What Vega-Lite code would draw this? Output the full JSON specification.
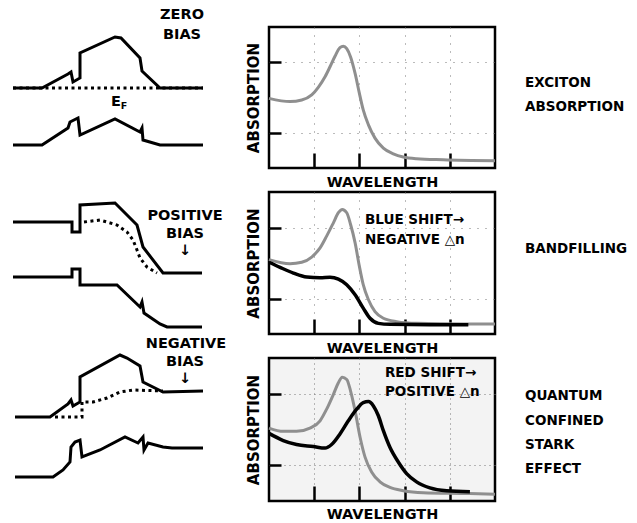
{
  "$schema": "https://vega.github.io/schema/vega-lite/v6.json",
  "padding": 0,
  "background": "white",
  "columns": 3,
  "spacing": {"row": 24, "column": 0},
  "bounds": "flush",
  "align": "each",
  "resolve": {"scale": {"x": "independent", "y": "independent"}},
  "config": {
    "view": {"stroke": null},
    "font": "DejaVu Sans",
    "text": {"font": "DejaVu Sans", "fontWeight": "bold", "color": "black"},
    "axis": {"titleFont": "DejaVu Sans", "titleFontWeight": "bold", "titleColor": "black"}
  },
  "datasets": {
    "solid": [
      {"band": "A", "i": 1, "x": 13, "y": 88}, {"band": "A", "i": 2, "x": 42, "y": 88}, {"band": "A", "i": 3, "x": 68, "y": 74}, {"band": "A", "i": 4, "x": 71, "y": 72}, {"band": "A", "i": 5, "x": 73, "y": 82}, {"band": "A", "i": 6, "x": 80, "y": 78}, {"band": "A", "i": 7, "x": 80, "y": 53}, {"band": "A", "i": 8, "x": 115, "y": 37}, {"band": "A", "i": 9, "x": 121, "y": 38}, {"band": "A", "i": 10, "x": 140, "y": 58}, {"band": "A", "i": 11, "x": 142, "y": 71}, {"band": "A", "i": 12, "x": 160, "y": 88}, {"band": "A", "i": 13, "x": 203, "y": 88},
      {"band": "B", "i": 1, "x": 13, "y": 145}, {"band": "B", "i": 2, "x": 42, "y": 145}, {"band": "B", "i": 3, "x": 68, "y": 128}, {"band": "B", "i": 4, "x": 70, "y": 122}, {"band": "B", "i": 5, "x": 78, "y": 118}, {"band": "B", "i": 6, "x": 80, "y": 135}, {"band": "B", "i": 7, "x": 115, "y": 119}, {"band": "B", "i": 8, "x": 140, "y": 132}, {"band": "B", "i": 9, "x": 142, "y": 128}, {"band": "B", "i": 10, "x": 143, "y": 140}, {"band": "B", "i": 11, "x": 160, "y": 145}, {"band": "B", "i": 12, "x": 203, "y": 145},
      {"band": "C", "i": 1, "x": 13, "y": 222}, {"band": "C", "i": 2, "x": 72, "y": 222}, {"band": "C", "i": 3, "x": 72, "y": 232}, {"band": "C", "i": 4, "x": 80, "y": 232}, {"band": "C", "i": 5, "x": 80, "y": 205}, {"band": "C", "i": 6, "x": 115, "y": 203}, {"band": "C", "i": 7, "x": 137, "y": 225}, {"band": "C", "i": 8, "x": 143, "y": 247}, {"band": "C", "i": 9, "x": 163, "y": 273}, {"band": "C", "i": 10, "x": 202, "y": 273},
      {"band": "D", "i": 1, "x": 13, "y": 277}, {"band": "D", "i": 2, "x": 72, "y": 277}, {"band": "D", "i": 3, "x": 72, "y": 269}, {"band": "D", "i": 4, "x": 80, "y": 269}, {"band": "D", "i": 5, "x": 80, "y": 285}, {"band": "D", "i": 6, "x": 117, "y": 285}, {"band": "D", "i": 7, "x": 140, "y": 307}, {"band": "D", "i": 8, "x": 142, "y": 302}, {"band": "D", "i": 9, "x": 144, "y": 313}, {"band": "D", "i": 10, "x": 160, "y": 324}, {"band": "D", "i": 11, "x": 167, "y": 327}, {"band": "D", "i": 12, "x": 202, "y": 327},
      {"band": "E", "i": 1, "x": 15, "y": 417}, {"band": "E", "i": 2, "x": 50, "y": 417}, {"band": "E", "i": 3, "x": 68, "y": 404}, {"band": "E", "i": 4, "x": 71, "y": 400}, {"band": "E", "i": 5, "x": 73, "y": 406}, {"band": "E", "i": 6, "x": 80, "y": 402}, {"band": "E", "i": 7, "x": 80, "y": 377}, {"band": "E", "i": 8, "x": 120, "y": 355}, {"band": "E", "i": 9, "x": 127, "y": 358}, {"band": "E", "i": 10, "x": 140, "y": 366}, {"band": "E", "i": 11, "x": 143, "y": 382}, {"band": "E", "i": 12, "x": 163, "y": 392}, {"band": "E", "i": 13, "x": 203, "y": 391},
      {"band": "F", "i": 1, "x": 15, "y": 477}, {"band": "F", "i": 2, "x": 53, "y": 477}, {"band": "F", "i": 3, "x": 63, "y": 470}, {"band": "F", "i": 4, "x": 70, "y": 462}, {"band": "F", "i": 5, "x": 71, "y": 447}, {"band": "F", "i": 6, "x": 75, "y": 442}, {"band": "F", "i": 7, "x": 80, "y": 440}, {"band": "F", "i": 8, "x": 82, "y": 457}, {"band": "F", "i": 9, "x": 100, "y": 450}, {"band": "F", "i": 10, "x": 125, "y": 437}, {"band": "F", "i": 11, "x": 138, "y": 443}, {"band": "F", "i": 12, "x": 143, "y": 437}, {"band": "F", "i": 13, "x": 144, "y": 450}, {"band": "F", "i": 14, "x": 148, "y": 443}, {"band": "F", "i": 15, "x": 163, "y": 447}, {"band": "F", "i": 16, "x": 172, "y": 448}, {"band": "F", "i": 17, "x": 203, "y": 448}
    ],
    "dotted": [
      {"band": "G", "i": 1, "x": 13, "y": 88}, {"band": "G", "i": 2, "x": 203, "y": 88},
      {"band": "H", "i": 1, "x": 84, "y": 222}, {"band": "H", "i": 2, "x": 100, "y": 220}, {"band": "H", "i": 3, "x": 117, "y": 225}, {"band": "H", "i": 4, "x": 127, "y": 232}, {"band": "H", "i": 5, "x": 133, "y": 240}, {"band": "H", "i": 6, "x": 137, "y": 250}, {"band": "H", "i": 7, "x": 140, "y": 258}, {"band": "H", "i": 8, "x": 147, "y": 267}, {"band": "H", "i": 9, "x": 157, "y": 273},
      {"band": "I", "i": 1, "x": 55, "y": 417}, {"band": "I", "i": 2, "x": 82, "y": 417}, {"band": "I", "i": 3, "x": 82, "y": 402}, {"band": "I", "i": 4, "x": 93, "y": 402}, {"band": "I", "i": 5, "x": 107, "y": 398}, {"band": "I", "i": 6, "x": 120, "y": 392}, {"band": "I", "i": 7, "x": 133, "y": 390}, {"band": "I", "i": 8, "x": 163, "y": 391}
    ],
    "leftText": [
      {"x": 182, "y": 15, "t": "ZERO"}, {"x": 182, "y": 35, "t": "BIAS"},
      {"x": 185, "y": 216, "t": "POSITIVE"}, {"x": 185, "y": 234, "t": "BIAS"}, {"x": 185, "y": 251, "t": "↓"},
      {"x": 186, "y": 344, "t": "NEGATIVE"}, {"x": 185, "y": 362, "t": "BIAS"}, {"x": 185, "y": 379, "t": "↓"},
      {"x": 116, "y": 102, "t": "E"}
    ],
    "subText": [{"x": 124, "y": 106, "t": "F"}],
    "rightText": [
      {"x": 30, "y": 83, "t": "EXCITON"}, {"x": 30, "y": 107, "t": "ABSORPTION"},
      {"x": 30, "y": 249, "t": "BANDFILLING"},
      {"x": 30, "y": 396, "t": "QUANTUM"}, {"x": 30, "y": 421, "t": "CONFINED"}, {"x": 30, "y": 445, "t": "STARK"}, {"x": 30, "y": 469, "t": "EFFECT"}
    ],
    "p1grey": [
      {"w": 0, "a": 0.494}, {"w": 0.093, "a": 0.471}, {"w": 0.145, "a": 0.482}, {"w": 0.189, "a": 0.518}, {"w": 0.218, "a": 0.572}, {"w": 0.248, "a": 0.647}, {"w": 0.27, "a": 0.718}, {"w": 0.292, "a": 0.793}, {"w": 0.314, "a": 0.854}, {"w": 0.329, "a": 0.864}, {"w": 0.344, "a": 0.847}, {"w": 0.361, "a": 0.788}, {"w": 0.381, "a": 0.671}, {"w": 0.4, "a": 0.529}, {"w": 0.417, "a": 0.412}, {"w": 0.44, "a": 0.306}, {"w": 0.469, "a": 0.212}, {"w": 0.506, "a": 0.141}, {"w": 0.55, "a": 0.101}, {"w": 0.594, "a": 0.078}, {"w": 0.653, "a": 0.066}, {"w": 0.771, "a": 0.059}, {"w": 1, "a": 0.052}
    ],
    "p2grey": [
      {"w": 0, "a": 0.524}, {"w": 0.093, "a": 0.495}, {"w": 0.145, "a": 0.505}, {"w": 0.189, "a": 0.542}, {"w": 0.226, "a": 0.606}, {"w": 0.255, "a": 0.689}, {"w": 0.285, "a": 0.783}, {"w": 0.307, "a": 0.854}, {"w": 0.324, "a": 0.877}, {"w": 0.344, "a": 0.854}, {"w": 0.361, "a": 0.771}, {"w": 0.381, "a": 0.642}, {"w": 0.4, "a": 0.476}, {"w": 0.417, "a": 0.347}, {"w": 0.44, "a": 0.241}, {"w": 0.469, "a": 0.158}, {"w": 0.506, "a": 0.111}, {"w": 0.565, "a": 0.087}, {"w": 0.653, "a": 0.075}, {"w": 0.86, "a": 0.071}, {"w": 1, "a": 0.071}
    ],
    "p2black": [
      {"w": 0, "a": 0.505}, {"w": 0.049, "a": 0.469}, {"w": 0.108, "a": 0.429}, {"w": 0.167, "a": 0.401}, {"w": 0.226, "a": 0.396}, {"w": 0.27, "a": 0.4}, {"w": 0.307, "a": 0.387}, {"w": 0.344, "a": 0.347}, {"w": 0.381, "a": 0.276}, {"w": 0.417, "a": 0.182}, {"w": 0.447, "a": 0.111}, {"w": 0.484, "a": 0.075}, {"w": 0.535, "a": 0.068}, {"w": 0.712, "a": 0.066}, {"w": 0.882, "a": 0.066}
    ],
    "p3grey": [
      {"w": 0, "a": 0.51}, {"w": 0.063, "a": 0.487}, {"w": 0.122, "a": 0.487}, {"w": 0.181, "a": 0.51}, {"w": 0.226, "a": 0.561}, {"w": 0.255, "a": 0.642}, {"w": 0.285, "a": 0.746}, {"w": 0.307, "a": 0.827}, {"w": 0.324, "a": 0.866}, {"w": 0.344, "a": 0.85}, {"w": 0.361, "a": 0.769}, {"w": 0.381, "a": 0.63}, {"w": 0.403, "a": 0.446}, {"w": 0.425, "a": 0.307}, {"w": 0.454, "a": 0.203}, {"w": 0.491, "a": 0.134}, {"w": 0.535, "a": 0.095}, {"w": 0.594, "a": 0.072}, {"w": 0.683, "a": 0.058}, {"w": 0.86, "a": 0.053}, {"w": 1, "a": 0.048}
    ],
    "p3black": [
      {"w": 0, "a": 0.473}, {"w": 0.063, "a": 0.423}, {"w": 0.122, "a": 0.395}, {"w": 0.196, "a": 0.381}, {"w": 0.248, "a": 0.37}, {"w": 0.277, "a": 0.395}, {"w": 0.314, "a": 0.469}, {"w": 0.351, "a": 0.561}, {"w": 0.388, "a": 0.642}, {"w": 0.417, "a": 0.688}, {"w": 0.44, "a": 0.695}, {"w": 0.462, "a": 0.665}, {"w": 0.484, "a": 0.596}, {"w": 0.506, "a": 0.492}, {"w": 0.535, "a": 0.376}, {"w": 0.572, "a": 0.273}, {"w": 0.609, "a": 0.192}, {"w": 0.653, "a": 0.134}, {"w": 0.712, "a": 0.092}, {"w": 0.786, "a": 0.072}, {"w": 0.889, "a": 0.065}
    ],
    "p2text": [{"w": 0.425, "a": 0.8, "t": "BLUE SHIFT→"}, {"w": 0.425, "a": 0.66, "t": "NEGATIVE △n"}],
    "p3text": [{"w": 0.513, "a": 0.895, "t": "RED SHIFT→"}, {"w": 0.513, "a": 0.762, "t": "POSITIVE △n"}]
  },
  "concat": [
    {"width": 269, "height": 3, "data": {"values": []}, "mark": {"type": "text", "text": ""}, "encoding": {}},
    {"width": 226, "height": 3, "data": {"values": []}, "mark": {"type": "text", "text": ""}, "encoding": {}},
    {"width": 142, "height": 3, "data": {"values": []}, "mark": {"type": "text", "text": ""}, "encoding": {}},

    {
      "width": 269, "height": 141,
      "encoding": {
        "x": {"field": "x", "type": "quantitative", "scale": {"domain": [0, 269], "nice": false, "zero": false}, "axis": null},
        "y": {"field": "y", "type": "quantitative", "scale": {"domain": [168, 27], "nice": false, "zero": false}, "axis": null}
      },
      "layer": [
        {"data": {"name": "dotted"}, "transform": [{"filter": {"field": "y", "range": [0, 180]}}], "mark": {"type": "line", "stroke": "black", "strokeWidth": 3, "strokeDash": [3, 3.5]}, "encoding": {"detail": {"field": "band"}, "order": {"field": "i"}}},
        {"data": {"name": "solid"}, "transform": [{"filter": {"field": "y", "range": [0, 180]}}], "mark": {"type": "line", "stroke": "black", "strokeWidth": 3, "strokeJoin": "miter"}, "encoding": {"detail": {"field": "band"}, "order": {"field": "i"}}},
        {"data": {"name": "leftText"}, "transform": [{"filter": {"field": "y", "range": [0, 180]}}], "mark": {"type": "text", "fontSize": 14.5, "align": "center", "baseline": "middle"}, "encoding": {"text": {"field": "t"}}},
        {"data": {"name": "subText"}, "mark": {"type": "text", "fontSize": 9.5, "align": "center", "baseline": "middle"}, "encoding": {"text": {"field": "t"}}}
      ]
    },
    {
      "width": 226, "height": 141,
      "view": {"stroke": "black", "strokeWidth": 2.5, "fill": "white"},
      "encoding": {
        "x": {"field": "w", "type": "quantitative", "scale": {"domain": [0, 1], "nice": false}, "axis": {"values": [0.2, 0.4, 0.6, 0.8], "labels": false, "tickSize": -15, "tickWidth": 2.5, "tickColor": "black", "domain": false, "title": "WAVELENGTH", "titleFontSize": 14.5, "titlePadding": 6, "grid": true, "gridDash": [1, 7], "gridColor": "#777", "gridWidth": 1}},
        "y": {"field": "a", "type": "quantitative", "scale": {"domain": [0, 1], "nice": false}, "axis": {"values": [0.25, 0.75], "labels": false, "tickSize": -12, "tickWidth": 2.5, "tickColor": "black", "domain": false, "title": "ABSORPTION", "titleFontSize": 15, "titlePadding": 6, "grid": true, "gridDash": [1, 7], "gridColor": "#777", "gridWidth": 1}}
      },
      "layer": [
        {"data": {"name": "p1grey"}, "mark": {"type": "line", "stroke": "#8f8f8f", "strokeWidth": 3, "interpolate": "monotone"}}
      ]
    },
    {
      "width": 142, "height": 141,
      "data": {"name": "rightText"},
      "transform": [{"filter": {"field": "y", "range": [0, 180]}}],
      "mark": {"type": "text", "fontSize": 13.5, "align": "left", "baseline": "middle"},
      "encoding": {
        "x": {"field": "x", "type": "quantitative", "scale": {"domain": [0, 142], "nice": false, "zero": false}, "axis": null},
        "y": {"field": "y", "type": "quantitative", "scale": {"domain": [168, 27], "nice": false, "zero": false}, "axis": null},
        "text": {"field": "t"}
      }
    },

    {
      "width": 269, "height": 142,
      "encoding": {
        "x": {"field": "x", "type": "quantitative", "scale": {"domain": [0, 269], "nice": false, "zero": false}, "axis": null},
        "y": {"field": "y", "type": "quantitative", "scale": {"domain": [334, 192], "nice": false, "zero": false}, "axis": null}
      },
      "layer": [
        {"data": {"name": "dotted"}, "transform": [{"filter": {"field": "y", "range": [180, 340]}}], "mark": {"type": "line", "stroke": "black", "strokeWidth": 3, "strokeDash": [3, 3.5]}, "encoding": {"detail": {"field": "band"}, "order": {"field": "i"}}},
        {"data": {"name": "solid"}, "transform": [{"filter": {"field": "y", "range": [180, 340]}}], "mark": {"type": "line", "stroke": "black", "strokeWidth": 3, "strokeJoin": "miter"}, "encoding": {"detail": {"field": "band"}, "order": {"field": "i"}}},
        {"data": {"name": "leftText"}, "transform": [{"filter": {"field": "y", "range": [180, 340]}}], "mark": {"type": "text", "fontSize": 14.5, "align": "center", "baseline": "middle"}, "encoding": {"text": {"field": "t"}}}
      ]
    },
    {
      "width": 226, "height": 142,
      "view": {"stroke": "black", "strokeWidth": 2.5, "fill": "white"},
      "encoding": {
        "x": {"field": "w", "type": "quantitative", "scale": {"domain": [0, 1], "nice": false}, "axis": {"values": [0.2, 0.4, 0.6, 0.8], "labels": false, "tickSize": -15, "tickWidth": 2.5, "tickColor": "black", "domain": false, "title": "WAVELENGTH", "titleFontSize": 14.5, "titlePadding": 6, "grid": true, "gridDash": [1, 7], "gridColor": "#777", "gridWidth": 1}},
        "y": {"field": "a", "type": "quantitative", "scale": {"domain": [0, 1], "nice": false}, "axis": {"values": [0.25, 0.75], "labels": false, "tickSize": -12, "tickWidth": 2.5, "tickColor": "black", "domain": false, "title": "ABSORPTION", "titleFontSize": 15, "titlePadding": 6, "grid": true, "gridDash": [1, 7], "gridColor": "#777", "gridWidth": 1}}
      },
      "layer": [
        {"data": {"name": "p2grey"}, "mark": {"type": "line", "stroke": "#8f8f8f", "strokeWidth": 3, "interpolate": "monotone"}},
        {"data": {"name": "p2black"}, "mark": {"type": "line", "stroke": "black", "strokeWidth": 3.5, "interpolate": "monotone"}},
        {"data": {"name": "p2text"}, "mark": {"type": "text", "fontSize": 13.5, "align": "left", "baseline": "middle"}, "encoding": {"text": {"field": "t"}}}
      ]
    },
    {
      "width": 142, "height": 142,
      "data": {"name": "rightText"},
      "transform": [{"filter": {"field": "y", "range": [180, 340]}}],
      "mark": {"type": "text", "fontSize": 13.5, "align": "left", "baseline": "middle"},
      "encoding": {
        "x": {"field": "x", "type": "quantitative", "scale": {"domain": [0, 142], "nice": false, "zero": false}, "axis": null},
        "y": {"field": "y", "type": "quantitative", "scale": {"domain": [334, 192], "nice": false, "zero": false}, "axis": null},
        "text": {"field": "t"}
      }
    },

    {
      "width": 269, "height": 143,
      "encoding": {
        "x": {"field": "x", "type": "quantitative", "scale": {"domain": [0, 269], "nice": false, "zero": false}, "axis": null},
        "y": {"field": "y", "type": "quantitative", "scale": {"domain": [501, 358], "nice": false, "zero": false}, "axis": null}
      },
      "layer": [
        {"data": {"name": "dotted"}, "transform": [{"filter": {"field": "y", "range": [340, 523]}}], "mark": {"type": "line", "stroke": "black", "strokeWidth": 3, "strokeDash": [3, 3.5]}, "encoding": {"detail": {"field": "band"}, "order": {"field": "i"}}},
        {"data": {"name": "solid"}, "transform": [{"filter": {"field": "y", "range": [340, 523]}}], "mark": {"type": "line", "stroke": "black", "strokeWidth": 3, "strokeJoin": "miter"}, "encoding": {"detail": {"field": "band"}, "order": {"field": "i"}}},
        {"data": {"name": "leftText"}, "transform": [{"filter": {"field": "y", "range": [340, 523]}}], "mark": {"type": "text", "fontSize": 14.5, "align": "center", "baseline": "middle"}, "encoding": {"text": {"field": "t"}}}
      ]
    },
    {
      "width": 226, "height": 143,
      "view": {"stroke": "black", "strokeWidth": 2.5, "fill": "#f3f3f3"},
      "encoding": {
        "x": {"field": "w", "type": "quantitative", "scale": {"domain": [0, 1], "nice": false}, "axis": {"values": [0.2, 0.4, 0.6, 0.8], "labels": false, "tickSize": -15, "tickWidth": 2.5, "tickColor": "black", "domain": false, "title": "WAVELENGTH", "titleFontSize": 14.5, "titlePadding": 5, "grid": true, "gridDash": [1, 4], "gridColor": "#777", "gridWidth": 1}},
        "y": {"field": "a", "type": "quantitative", "scale": {"domain": [0, 1], "nice": false}, "axis": {"values": [0.25, 0.75], "labels": false, "tickSize": -12, "tickWidth": 2.5, "tickColor": "black", "domain": false, "title": "ABSORPTION", "titleFontSize": 15, "titlePadding": 6, "grid": true, "gridDash": [1, 4], "gridColor": "#777", "gridWidth": 1}}
      },
      "layer": [
        {"data": {"name": "p3grey"}, "mark": {"type": "line", "stroke": "#8f8f8f", "strokeWidth": 3, "interpolate": "monotone"}},
        {"data": {"name": "p3black"}, "mark": {"type": "line", "stroke": "black", "strokeWidth": 3.5, "interpolate": "monotone"}},
        {"data": {"name": "p3text"}, "mark": {"type": "text", "fontSize": 13.5, "align": "left", "baseline": "middle"}, "encoding": {"text": {"field": "t"}}}
      ]
    },
    {
      "width": 142, "height": 143,
      "data": {"name": "rightText"},
      "transform": [{"filter": {"field": "y", "range": [340, 523]}}],
      "mark": {"type": "text", "fontSize": 13.5, "align": "left", "baseline": "middle"},
      "encoding": {
        "x": {"field": "x", "type": "quantitative", "scale": {"domain": [0, 142], "nice": false, "zero": false}, "axis": null},
        "y": {"field": "y", "type": "quantitative", "scale": {"domain": [501, 358], "nice": false, "zero": false}, "axis": null},
        "text": {"field": "t"}
      }
    }
  ]
}
